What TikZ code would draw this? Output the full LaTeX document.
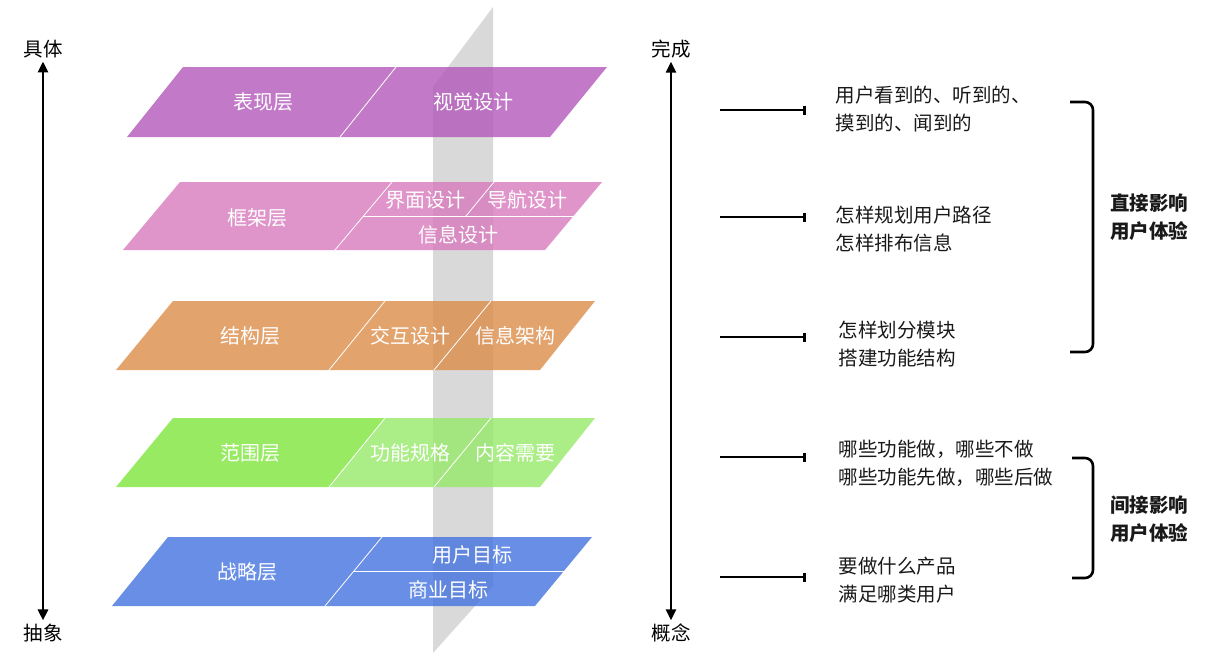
\documentclass[tikz,border=0pt]{standalone}
\usepackage{fontspec}
\usepackage{xcolor}
\newfontfamily\cjk{Noto Sans CJK SC}
\usetikzlibrary{arrows.meta}

\definecolor{stripgray}{HTML}{D9D9DA}
\definecolor{purp}{HTML}{B358BA}
\definecolor{pinkl}{HTML}{D77ABC}
\definecolor{orng}{HTML}{DC8C48}
\definecolor{grnA}{HTML}{7EE53C}
\definecolor{grnB}{HTML}{96EA69}
\definecolor{blu}{HTML}{4372DF}

\begin{document}
\begin{tikzpicture}[x=1pt, y=-1pt, font=\cjk\fontsize{19.5}{24}\selectfont,
        layer/.style={opacity=0.8},
        split/.style={draw=white, line width=0.8pt},
        lbl/.style={text=white, font=\cjk\fontsize{20}{24}\selectfont},
        note/.style={anchor=west, align=left, text=black!90,
                     font=\cjk\fontsize{19.5}{28}\selectfont},
        group/.style={align=center, text=black!90,
                      font=\cjk\bfseries\fontsize{19.5}{28}\selectfont},
        axis/.style={line width=2.8pt,
                     {Triangle[width=10pt,length=11pt]}-{Triangle[width=10pt,length=11pt]}},
        tick/.style={line width=2.6pt, -{Bar[width=9pt,line width=2.6pt]}},
        brace/.style={line width=2.6pt, rounded corners=8pt}]
      \useasboundingbox (0,0) rectangle (1212,653);
      % grey plane behind the layers
      \fill[stripgray] (433,87) -- (493,7) -- (493,586) -- (433,653) -- cycle;

      % surface
      \fill[layer, fill=purp] (127,137) -- (183,67) -- (607,67) -- (550,137) -- cycle;
      \draw[split] (396,67) -- (340,137);
      \node[lbl] (surf) at (263,102) {表现层};
      \node[lbl] (visual) at (473,102) {视觉设计};

      % skeleton
      \fill[layer, fill=pinkl] (123,250) -- (180,182) -- (602,182) -- (545,250) -- cycle;
      \draw[split] (392,182) -- (335,250);
      \draw[split] (363,216) -- (574,216);
      \draw[split] (494,182) -- (466,216);
      \node[lbl] (skel) at (257,218) {框架层};
      \node[lbl] (iface) at (425,200) {界面设计};
      \node[lbl] (navi) at (527,200) {导航设计};
      \node[lbl] (infod) at (458,235) {信息设计};

      % structure
      \fill[layer, fill=orng] (116,370) -- (173,301) -- (595,301) -- (540,370) -- cycle;
      \draw[split] (385,301) -- (329,370);
      \draw[split] (491,301) -- (434,370);
      \node[lbl] (struct) at (250,336) {结构层};
      \node[lbl] (interact) at (410,336) {交互设计};
      \node[lbl] (infoarch) at (515,336) {信息架构};

      % scope
      \fill[layer, fill=grnA] (116,487) -- (173,418) -- (385,418) -- (329,487) -- cycle;
      \fill[layer, fill=grnB] (329,487) -- (385,418) -- (595,418) -- (540,487) -- cycle;
      \draw[split] (385,418) -- (329,487);
      \draw[split] (491,418) -- (434,487);
      \node[lbl] (scope) at (250,453) {范围层};
      \node[lbl] (funcspec) at (410,453) {功能规格};
      \node[lbl] (content) at (515,453) {内容需要};

      % strategy
      \fill[layer, fill=blu] (112,606) -- (168,537) -- (592,537) -- (535,606) -- cycle;
      \draw[split] (382,537) -- (325,606);
      \draw[split] (354,571) -- (564,571);
      \node[lbl] (strat) at (247,572) {战略层};
      \node[lbl] (usergoal) at (472,555) {用户目标};
      \node[lbl] (bizgoal) at (448,590) {商业目标};

      % axes
      \node (concrete) at (43,49) {具体};
      \node (abstract) at (43,633) {抽象};
      \draw[axis] (concrete) -- (abstract);
      \node (done) at (671,49) {完成};
      \node (concept) at (671,633) {概念};
      \draw[axis] (done) -- (concept);

      % ticks and notes
      \foreach \y [count=\i] in {110,217,337,457,577} {
        \coordinate (t\i a) at (720,\y);
        \coordinate (t\i b) at (806,\y);
        \draw[tick] (t\i a) -- (t\i b);
      }
      \node[note] (n1) at (832,109) {用户看到的、听到的、\\摸到的、闻到的};
      \node[note] (n2) at (832,229) {怎样规划用户路径\\怎样排布信息};
      \node[note] (n3) at (835,344) {怎样划分模块\\搭建功能结构};
      \node[note] (n4) at (835,463) {哪些功能做，哪些不做\\哪些功能先做，哪些后做};
      \node[note] (n5) at (835,580) {要做什么产品\\满足哪类用户};

      % brackets
      \draw[brace] (1070,102) -| (1093,352) -- (1070,352);
      \draw[brace] (1072,458) -| (1093,578) -- (1072,578);
      \node[group] (direct) at (1149,217) {直接影响\\用户体验};
      \node[group] (indirect) at (1149,519) {间接影响\\用户体验};
    \end{tikzpicture}
\end{document}
